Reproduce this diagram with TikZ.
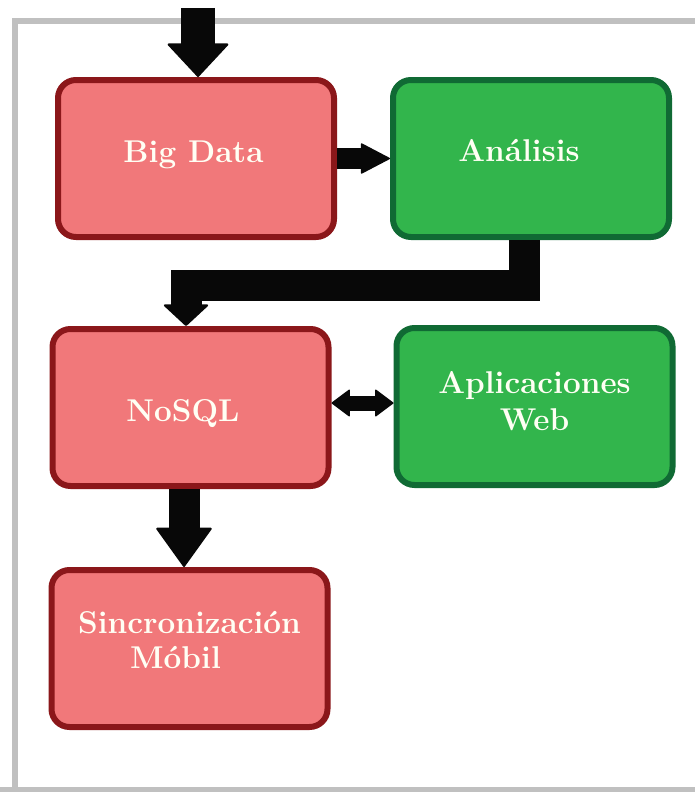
\documentclass[tikz,border=0pt]{standalone}
\usetikzlibrary{arrows.meta}
\definecolor{redfill}{RGB}{241,120,122}
\definecolor{reddraw}{RGB}{139,23,26}
\definecolor{greenfill}{RGB}{50,181,76}
\definecolor{greendraw}{RGB}{16,106,52}
\definecolor{framegray}{RGB}{192,192,192}
\definecolor{txtcol}{RGB}{255,255,244}
\tikzset{
  box/.style={rectangle, rounded corners=18pt, line width=6pt,
    minimum width=276pt, minimum height=157pt, inner sep=0pt,
    text=txtcol, align=center, font=\bfseries\fontsize{31.5}{37}\selectfont},
  redbox/.style={box, fill=redfill, draw=reddraw},
  greenbox/.style={box, fill=greenfill, draw=greendraw},
  fat/.style={draw=black!97, line cap=butt, line join=miter}
}
\begin{document}
\begin{tikzpicture}[x=1pt,y=1pt]
\useasboundingbox (0,0) rectangle (695,-792);
\draw[framegray, line width=6pt] (15,-820) -- (15,-21.5) -- (720,-21.5);
\draw[framegray, line width=6pt] (0,-790) -- (720,-790);

\node[redbox, text height=20pt, text depth=13pt] (bd) at (196,-158.5) {Big Data\hspace{5pt}};
\node[greenbox, text height=20pt, text depth=15pt] (an) at (531,-158.5) {Análisis\hspace{24pt}};
\node[redbox, text height=30pt, text depth=3pt] (nosql) at (190.5,-407.5) {NoSQL\hspace{15pt}};
\node[greenbox, text height=60pt, text depth=13pt] (web) at (534.5,-406.5) {Aplicaciones\\Web};
\node[redbox, align=left, text height=55pt, text depth=16pt] (sync) at (189.5,-648.5) {Sincronización\\[-2pt]\hspace*{52pt}Móbil};

% arrows
\coordinate (start) at (198,-8);
\draw[fat, line width=34pt, -{Triangle[width=63pt,length=34pt,line width=2pt,round]}]
  (start) -- ([xshift=2pt]bd.north);
\draw[fat, line width=21pt, -{Triangle[width=31pt,length=30pt,line width=1.5pt,round]}]
  (bd.east) -- (an.west);
\draw[fat, line width=31pt, -{Triangle[width=47pt,length=22pt,line width=2pt,round]}]
  ([xshift=-7pt]an.south) -- ++(0,-45.5) -| ([xshift=-4.5pt]nosql.north);
\draw[fat, line width=15pt, {Triangle[width=28pt,length=19pt,line width=1.5pt,round]}-{Triangle[width=28pt,length=19pt,line width=1.5pt,round]}]
  ([yshift=4.5pt]nosql.east) -- ([yshift=3.5pt]web.west);
\draw[fat, line width=31pt, -{Triangle[width=57pt,length=40pt,line width=2pt,round]}]
  ([xshift=-6.5pt]nosql.south) -- ([xshift=-5.5pt]sync.north);
\end{tikzpicture}
\end{document}
